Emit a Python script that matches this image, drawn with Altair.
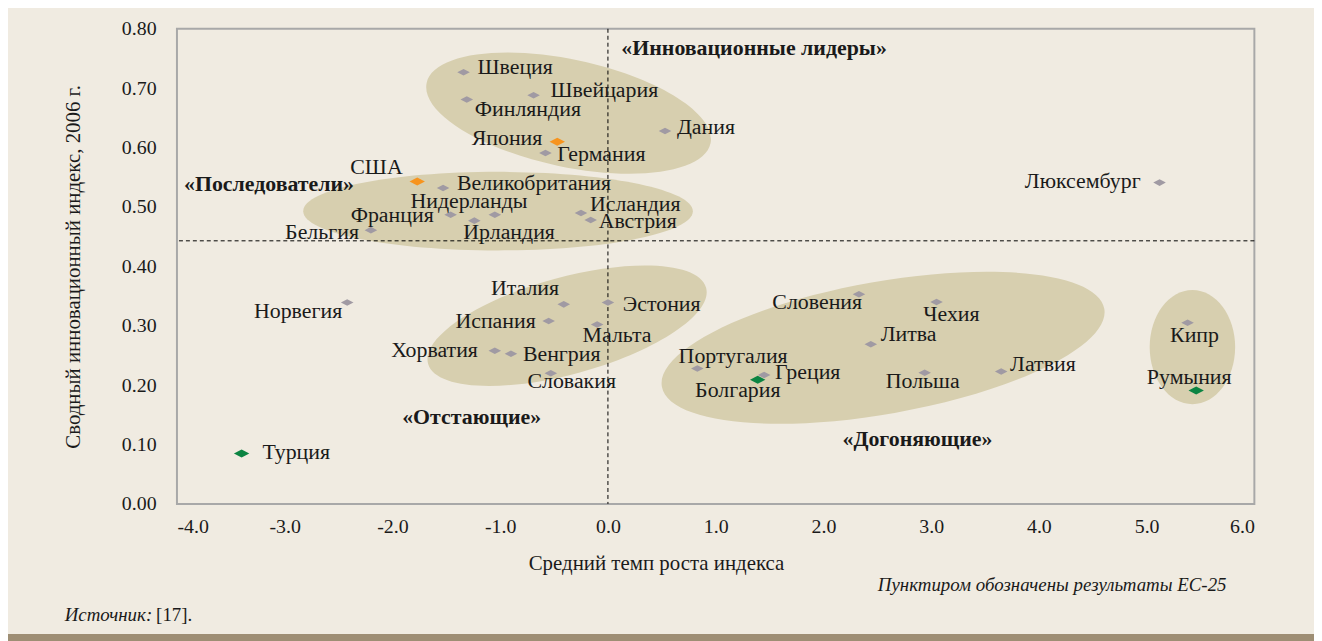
import altair as alt
import pandas as pd

# ---------------- data ----------------
countries = ["Швеция", "Швейцария", "Финляндия", "Япония", "Германия", "Дания", "США",
             "Великобритания", "Нидерланды", "Франция", "Ирландия", "Бельгия", "Исландия",
             "Австрия", "Люксембург", "Италия", "Эстония", "Испания", "Мальта", "Хорватия",
             "Венгрия", "Словакия", "Португалия", "Словения", "Чехия", "Литва", "Греция",
             "Болгария", "Польша", "Латвия", "Кипр", "Румыния", "Норвегия", "Турция"]
growth = [-1.34, -0.69, -1.31, -0.47, -0.58, 0.53, -1.77,
          -1.53, -1.05, -1.46, -1.24, -2.20, -0.25,
          -0.16, 5.12, -0.41, 0.00, -0.55, -0.10, -1.05,
          -0.90, -0.53, 0.83, 2.33, 3.05, 2.44, 1.45,
          1.39, 2.94, 3.65, 5.38, 5.46, -2.42, -3.40]
index2006 = [0.727, 0.688, 0.681, 0.610, 0.591, 0.628, 0.543,
             0.532, 0.487, 0.487, 0.477, 0.461, 0.490,
             0.478, 0.541, 0.336, 0.339, 0.308, 0.302, 0.258,
             0.253, 0.220, 0.228, 0.353, 0.340, 0.269, 0.217,
             0.209, 0.221, 0.223, 0.305, 0.191, 0.339, 0.085]
kind = ["ЕС", "ЕС", "ЕС", "США/Япония", "ЕС", "ЕС", "США/Япония",
        "ЕС", "ЕС", "ЕС", "ЕС", "ЕС", "ЕС",
        "ЕС", "ЕС", "ЕС", "ЕС", "ЕС", "ЕС", "ЕС",
        "ЕС", "ЕС", "ЕС", "ЕС", "ЕС", "ЕС", "ЕС",
        "Кандидаты", "ЕС", "ЕС", "ЕС", "Кандидаты", "ЕС", "Кандидаты"]

cluster_names = ["Инновационные лидеры", "Последователи", "Отстающие", "Догоняющие", "Догоняющие-2"]
cluster_x = [-0.365, -1.020, -0.379, 2.554, 5.425]
cluster_y = [0.658, 0.493, 0.300, 0.263, 0.264]

quad_labels = ["«Инновационные лидеры»", "«Последователи»", "«Отстающие»", "«Догоняющие»"]
quad_x = [0.124, -3.935, -1.265, 2.873]
quad_y = [0.767, 0.539, 0.146, 0.109]

eu25_growth = 0.0
eu25_index = 0.443

x_ticks = [-4, -3, -2, -1, 0, 1, 2, 3, 4, 5, 6]
y_ticks = [0.0, 0.1, 0.2, 0.3, 0.4, 0.5, 0.6, 0.7, 0.8]

x_title = "Средний темп роста индекса"
y_title = "Сводный инновационный индекс, 2006 г."
note_text = "Пунктиром обозначены результаты ЕС-25"
source_label = "Источник:"
source_ref = "[17]."

# ---------------- styling ----------------
label_align = ["left", "left", "left", "right", "left", "left", "center",
               "left", "center", "right", "center", "right", "left",
               "left", "right", "center", "left", "right", "center", "right",
               "left", "center", "center", "center", "center", "left", "left",
               "center", "center", "left", "center", "center", "right", "left"]
label_dx = [14, 17, 8, -15, 12, 12, -41,
            14, -26, -17, 35, -12, 9,
            8, -19, -39, 15, -13, 20, -17,
            12, 21, 36, -42, 15, 10, 11,
            -20, -2, 9, 7, -7, -5, 21]
label_dy = [-5, -5, 10, -4, 1, -4, -14,
            -5, -14, 0, 11, 2, -9,
            1, -2, -16, 1, 0, 11, -1,
            0, 8, -13, 8, 12, -10, -3,
            10, 8, -7, 12, -14, 9, -1]

cluster_a = [146, 196, 145, 226, 57.5]
cluster_b = [54, 39.5, 48.7, 66.6, 43]
cluster_angle = [12, 0, 344.7, 350, 90]

FONT = "Liberation Serif"
BG = "#F0EBE1"
ELL = "#D7CFAF"
GREY = "#A09AA3"
color_domain = ["ЕС", "США/Япония", "Кандидаты"]
color_range = [GREY, "#F7941E", "#0B8442"]
DIAMOND = "M -1 0 L 0 -0.52 L 1 0 L 0 0.52 Z"

xs = alt.Scale(domain=[-4, 6], nice=False, zero=False)
ys = alt.Scale(domain=[0, 0.8], nice=False, zero=False)

x_axis = alt.Axis(values=x_ticks,
                  labelExpr="(datum.value < 0 ? '-' : '') + format(abs(datum.value), '.1f')",
                  title=x_title, grid=False, domain=False, ticks=False, labelPadding=13,
                  titleX=482, titleY=60, titleBaseline="middle", titleAlign="center")
y_axis = alt.Axis(values=y_ticks, format=".2f", title=y_title, grid=False, domain=False,
                  ticks=False, labelPadding=21, titleX=-104, titleY=239, titleAngle=270,
                  titleBaseline="middle", titleAlign="center")


def X(f):
    return alt.X(f, type="quantitative", scale=xs, axis=x_axis)


def Y(f):
    return alt.Y(f, type="quantitative", scale=ys, axis=y_axis)


def ellipse_path(r):
    k = 0.5523
    return (f"M 1 0 C 1 {k*r:.4f} {k:.4f} {r:.4f} 0 {r:.4f} "
            f"C {-k:.4f} {r:.4f} -1 {k*r:.4f} -1 0 "
            f"C -1 {-k*r:.4f} {-k:.4f} {-r:.4f} 0 {-r:.4f} "
            f"C {k:.4f} {-r:.4f} 1 {-k*r:.4f} 1 0 Z")


df = pd.DataFrame({"name": countries, "g": growth, "idx": index2006, "kind": kind})
cl = pd.DataFrame({"name": cluster_names, "cx": cluster_x, "cy": cluster_y})
qd = pd.DataFrame({"t": quad_labels, "qx": quad_x, "qy": quad_y})
one = pd.DataFrame({"v": [0]})

layers = []

# ellipses
for i, n in enumerate(cluster_names):
    layers.append(
        alt.Chart(cl).transform_filter(alt.datum.name == n)
        .mark_point(shape=ellipse_path(cluster_b[i] / cluster_a[i]), size=4 * cluster_a[i] ** 2,
                    angle=cluster_angle[i], filled=True, opacity=1, color=ELL, strokeWidth=0)
        .encode(x=X("cx"), y=Y("cy"))
    )

# EU-25 dashed lines
layers.append(alt.Chart(one).mark_rule(color="black", strokeWidth=1, strokeDash=[4, 3])
              .encode(x=alt.datum(eu25_growth, scale=xs, axis=x_axis)))
layers.append(alt.Chart(one).mark_rule(color="black", strokeWidth=1, strokeDash=[4, 3])
              .encode(y=alt.datum(eu25_index, scale=ys, axis=y_axis)))

# diamonds
cscale = alt.Scale(domain=color_domain, range=color_range)
layers.append(alt.Chart(df).transform_filter(alt.datum.kind == "ЕС")
              .mark_point(shape=DIAMOND, size=160, filled=True, opacity=1, strokeWidth=0)
              .encode(x=X("g"), y=Y("idx"), color=alt.Color("kind:N", scale=cscale, legend=None)))
layers.append(alt.Chart(df).transform_filter(alt.datum.kind != "ЕС")
              .mark_point(shape=DIAMOND, size=240, filled=True, opacity=1, strokeWidth=0)
              .encode(x=X("g"), y=Y("idx"), color=alt.Color("kind:N", scale=cscale, legend=None)))

# country labels
for i, n in enumerate(countries):
    layers.append(
        alt.Chart(df).transform_filter(alt.datum.name == n)
        .mark_text(align=label_align[i], baseline="middle", dx=label_dx[i], dy=label_dy[i],
                   font=FONT, fontSize=22, color="#1a1a1a")
        .encode(x=X("g"), y=Y("idx"), text="name:N")
    )

# quadrant annotations
qalign = ["left", "left", "center", "center"]
for i, t in enumerate(quad_labels):
    layers.append(
        alt.Chart(qd).transform_filter(alt.datum.t == t)
        .mark_text(align=qalign[i], baseline="middle", font=FONT, fontSize=22,
                   fontWeight="bold", color="#1a1a1a")
        .encode(x=X("qx"), y=Y("qy"), text="t:N")
    )

# notes
layers.append(alt.Chart(one).mark_text(text=note_text, align="right", baseline="middle",
                                       font=FONT, fontSize=19, fontStyle="italic", color="#1a1a1a")
              .encode(x=alt.value(1056), y=alt.value(560)))
layers.append(alt.Chart(one).mark_text(text=source_label, align="left", baseline="middle",
                                       font=FONT, fontSize=19, fontStyle="italic", color="#1a1a1a")
              .encode(x=alt.value(-113), y=alt.value(590)))
layers.append(alt.Chart(one).mark_text(text=source_ref, align="left", baseline="middle",
                                       font=FONT, fontSize=19, color="#1a1a1a")
              .encode(x=alt.value(-21), y=alt.value(590)))

# bottom bar
layers.append(alt.Chart(one).mark_rect(color="#9E8E74")
              .encode(x=alt.value(-170), x2=alt.value(1144), y=alt.value(609), y2=alt.value(616)))

chart = (
    alt.layer(*layers)
    .properties(width=1084, height=478,
                padding={"left": 170, "top": 19, "right": 60, "bottom": 136},
                autosize=alt.AutoSizeParams(type="none"), background=BG)
    .configure_view(stroke="#A8A8A8", strokeWidth=2)
    .configure_axis(labelFont=FONT, titleFont=FONT, labelFontSize=20, titleFontSize=21,
                    titleFontWeight="normal", labelColor="#1a1a1a", titleColor="#1a1a1a")
)

chart.save("out.html", embed_options={"renderer": "svg", "actions": False})
